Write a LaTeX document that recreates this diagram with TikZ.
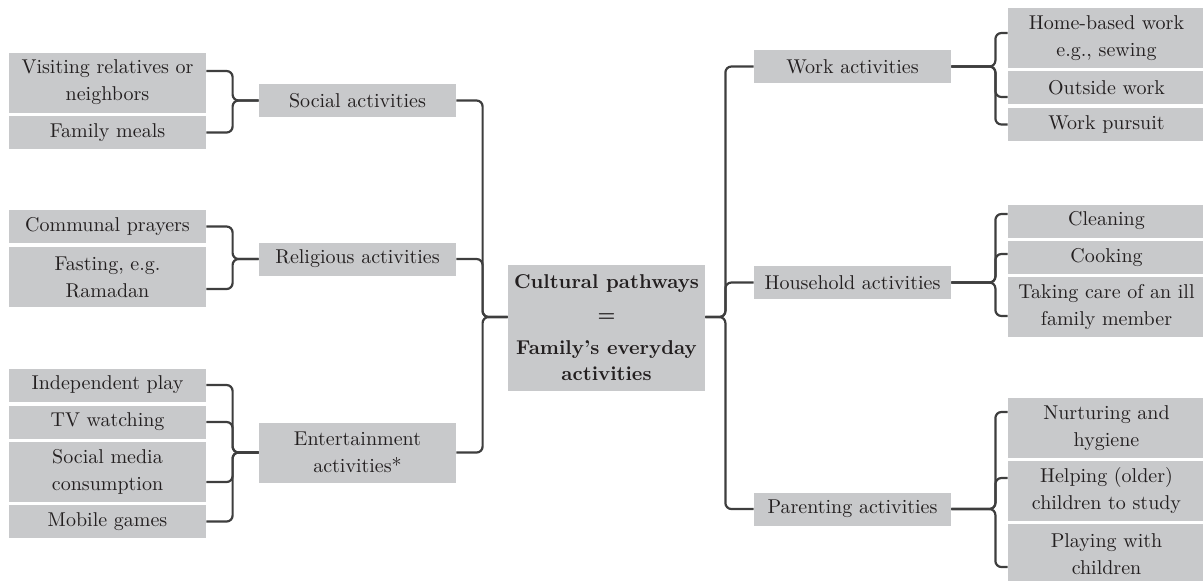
\documentclass[tikz,border=0pt]{standalone}
\usepackage{tikz}
\usetikzlibrary{calc,positioning}
\definecolor{boxgray}{RGB}{200,201,203}
\definecolor{linegray}{RGB}{62,62,62}
\definecolor{txtgray}{RGB}{35,31,32}

\begin{document}
\begin{tikzpicture}[x=.5pt,y=-.5pt,font=\fontsize{10}{13.5}\selectfont,
    leaf/.style={fill=boxgray,text=txtgray,align=center,minimum width=98.5pt,minimum height=16.5pt,inner sep=0pt},
    tall/.style={leaf,minimum height=30pt},
    hub/.style={leaf,minimum height=63pt,font=\fontsize{10}{13}\selectfont\bfseries},
    link/.style={draw=linegray,line width=1.1pt,rounded corners=3pt}]
    \useasboundingbox (0,0) rectangle (1203,580);
    % left leaves
    \node[tall] (visit) at (107.5,82.5) {Visiting relatives or\\neighbors};
    \node[leaf] (meals) at (107.5,132.5) {Family meals};
    \node[leaf] (prayers) at (107.5,226.5) {Communal prayers};
    \node[tall] (fasting) at (107.5,277) {Fasting, e.g.\\Ramadan};
    \node[leaf] (indep) at (107.5,385) {Independent play};
    \node[leaf] (tv) at (107.5,422) {TV watching};
    \node[tall] (smedia) at (107.5,472) {Social media\\consumption};
    \node[leaf] (mobile) at (107.5,521.5) {Mobile games};
    % left categories
    \node[leaf] (social) at (357.5,100.5) {Social activities};
    \node[leaf] (religious) at (357.5,259) {Religious activities};
    \node[tall] (enter) at (357.5,452.5) {Entertainment\\activities*};
    % centre
    \node[hub] (hub) at (606.5,328) {Cultural pathways\\[3.5pt]=\\[3.5pt]Family's everyday\\activities};
    % right categories
    \node[leaf] (work) at (852.5,66.5) {Work activities};
    \node[leaf] (house) at (852.5,282.5) {Household activities};
    \node[leaf] (parent) at (852.5,509) {Parenting activities};
    % right leaves
    \node[tall] (home) at (1106.5,38) {Home-based work\\e.g., sewing};
    \node[leaf] (outside) at (1106.5,87.5) {Outside work};
    \node[leaf] (pursuit) at (1106.5,124.5) {Work pursuit};
    \node[leaf] (cleaning) at (1106.5,221) {Cleaning};
    \node[leaf] (cooking) at (1106.5,257.5) {Cooking};
    \node[tall] (care) at (1106.5,307) {Taking care of an ill\\family member};
    \node[tall] (nurture) at (1106.5,428) {Nurturing and\\hygiene};
    \node[tall] (helping) at (1106.5,491) {Helping (older)\\children to study};
    \node[tall] (playing) at (1106.5,554) {Playing with\\children};

    % brackets
    \foreach \c/\s in {visit/5.75,meals/0}
      \draw[link] ([yshift=\s pt]\c.east) -| ($(social.west)+(-26,0)$) -- (social.west);
    \foreach \c/\s in {prayers/0,fasting/-6}
      \draw[link] ([yshift=\s pt]\c.east) -| ($(religious.west)+(-26,0)$) -- (religious.west);
    \foreach \c/\s in {indep/0,tv/0,smedia/-5,mobile/0}
      \draw[link] ([yshift=\s pt]\c.east) -| ($(enter.west)+(-26,0)$) -- (enter.west);
    \foreach \c in {social,religious,enter}
      \draw[link] (\c.east) -| ($(hub.west)+(-25,-11)$) -- ([yshift=5.5pt]hub.west);
    \foreach \c in {work,house,parent}
      \draw[link] ([yshift=5.5pt]hub.east) -- ++(20,0) |- (\c.west);
    \foreach \c/\s in {home/2.5,outside/-4.75,pursuit/0}
      \draw[link] (work.east) -- ++(44,0) |- ([yshift=\s pt]\c.west);
    \foreach \c/\s in {cleaning/3.5,cooking/1.75,care/-4.5}
      \draw[link] (house.east) -- ++(44,0) |- ([yshift=\s pt]\c.west);
    \foreach \c/\s in {nurture/8,helping/6.5,playing/-6.5}
      \draw[link] (parent.east) -- ++(44,0) |- ([yshift=\s pt]\c.west);
  \end{tikzpicture}
\end{document}
